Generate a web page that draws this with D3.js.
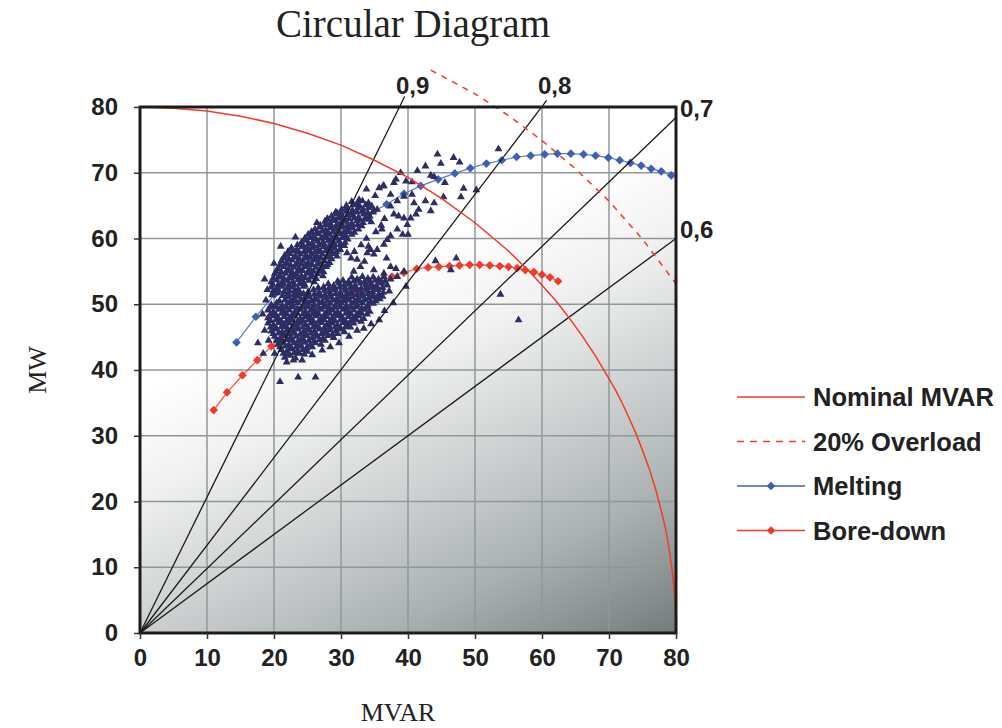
<!DOCTYPE html>
<html>
<head>
<meta charset="utf-8">
<script src="https://cdn.jsdelivr.net/npm/d3@7"></script>
<style>
  body { margin: 0; background: #fff; }
  .tick text { font-family: "Liberation Sans", Arial, sans-serif; font-weight: bold; font-size: 24px; fill: #222; }
  .lbl { font-family: "Liberation Sans", Arial, sans-serif; font-weight: bold; font-size: 24px; fill: #222; }
  .leg { font-family: "Liberation Sans", Arial, sans-serif; font-weight: bold; font-size: 25.5px; fill: #222; }
  .serif { font-family: "Liberation Serif", "Times New Roman", serif; fill: #222; }
</style>
</head>
<body>
<svg id="chart" width="1002" height="728"></svg>
<script>
// ticks
const xTicks = [0, 10, 20, 30, 40, 50, 60, 70, 80];
const yTicks = [0, 10, 20, 30, 40, 50, 60, 70, 80];

// nominal MVAR limit [MVAR, MW]
const nominal = [[0,80],[5,79.8],[10,79.4],[15,78.6],[20,77.5],[25,76.0],[30,74.2],[35,71.9],[40,69.3],[45,66.1],[50,62.4],[55,58.1],[58,55.1],[60,52.9],[62,50.6],[64,48.0],[66,45.2],[68,42.1],[70,38.7],[71,36.9],[72,34.9],[73,32.7],[74,30.4],[75,27.8],[76,25.0],[77,21.7],[78,17.8],[78.5,15.6],[79,12.6],[79.5,8.9],[79.8,5.6],[80,0]];

// 20% overload
const overload = [[43.4,85.6],[46,84.2],[50,82.0],[55,78.7],[60,74.9],[65,70.6],[70,65.7],[75,59.9],[80,53.1]];

// power factor lines, end points
const pfLabels = ["0,9", "0,8", "0,7", "0,6"];
const pfEnds = [[39.5,81.6],[60.7,81.0],[80,78.4],[80,60]];

const melting = [[14.4,44.2],[17.3,48.1],[20.1,51.5],[22.9,54.3],[25.7,57.0],[28.4,59.6],[31.2,61.8],[34.0,63.6],[36.8,65.2],[39.4,66.8],[41.9,68.0],[44.5,69.0],[47.0,69.9],[49.3,70.7],[51.7,71.4],[54.0,71.9],[56.2,72.4],[58.3,72.6],[60.4,72.8],[62.3,72.9],[64.3,72.9],[66.2,72.8],[68.0,72.6],[69.9,72.3],[71.6,71.9],[73.2,71.5],[74.8,71.1],[76.3,70.6],[77.8,70.2],[79.3,69.6]];

const boreDown = [[11.0,33.9],[13.0,36.6],[15.3,39.2],[17.5,41.5],[19.6,43.6],[21.7,45.5],[23.8,47.2],[25.9,48.7],[28.0,50.0],[30.1,51.0],[32.2,51.9],[34.2,52.6],[36.0,53.4],[37.6,54.2],[39.4,54.8],[41.3,55.4],[43.0,55.6],[44.6,55.7],[46.2,55.8],[47.7,55.9],[49.2,56.0],[50.7,56.0],[52.2,55.9],[53.7,55.8],[55.0,55.7],[56.3,55.5],[57.5,55.2],[58.8,54.9],[60.0,54.5],[61.2,54.1],[62.4,53.5]];

// measured operating points, melting period (dense cloud)
const measuredUpper = [
  [31.6,65.6],[32.4,65.3],[33.2,65.7],[34.1,65.4],
  [30.8,65.0],[31.9,65.1],[32.8,64.9],[33.7,65.1],[34.6,64.9],
  [30.1,64.4],[30.9,64.7],[31.7,64.3],[32.5,64.6],[33.3,64.4],[34.1,64.7],[34.9,64.3],
  [29.2,64.0],[30.0,63.9],[30.8,64.1],[31.6,63.9],[32.4,64.0],[33.2,64.1],[34.0,63.9],[34.8,64.0],
  [28.6,63.4],[29.4,63.7],[30.2,63.3],[31.0,63.6],[31.8,63.5],[32.6,63.2],[33.4,63.7],[34.3,63.4],
  [28.0,63.0],[28.8,62.9],[29.6,63.1],[30.4,62.9],[31.2,63.0],[32.0,63.1],[32.8,62.9],[33.6,63.0],[34.2,62.9],
  [27.6,62.6],[28.4,62.3],[29.2,62.7],[30.0,62.4],[30.8,62.6],[31.6,62.3],[32.4,62.7],[33.3,62.4],
  [26.9,62.0],[27.7,62.1],[28.5,61.9],[29.3,62.0],[30.1,62.1],[30.9,61.9],[31.7,62.0],[32.5,62.1],[33.1,61.9],
  [26.1,61.4],[26.9,61.7],[27.7,61.3],[28.5,61.6],[29.3,61.4],[30.1,61.7],[30.9,61.3],[31.7,61.6],[32.6,61.4],
  [25.6,61.0],[26.4,60.9],[27.2,61.1],[28.0,60.9],[28.8,61.0],[29.6,61.1],[30.4,60.9],[31.2,61.0],[32.0,60.9],
  [25.1,60.6],[25.9,60.3],[26.7,60.7],[27.5,60.4],[28.3,60.6],[29.1,60.3],[29.9,60.7],[30.7,60.4],[31.6,60.6],
  [24.6,60.0],[25.4,60.1],[26.2,59.9],[27.0,60.0],[27.8,60.1],[28.6,59.9],[29.4,60.0],[30.2,60.1],[31.0,59.9],
  [24.1,59.4],[24.9,59.7],[25.7,59.3],[26.5,59.6],[27.3,59.4],[28.1,59.7],[28.9,59.3],[29.7,59.6],[30.6,59.4],
  [23.5,59.0],[24.3,58.9],[25.1,59.1],[25.9,58.9],[26.7,59.0],[27.5,59.1],[28.3,58.9],[29.1,59.0],[29.9,59.1],[30.5,58.9],
  [22.6,58.6],[23.4,58.3],[24.2,58.7],[25.0,58.4],[25.8,58.6],[26.6,58.3],[27.4,58.7],[28.2,58.4],[29.0,58.6],[29.8,58.3],
  [22.1,58.0],[22.9,58.1],[23.7,57.9],[24.5,58.0],[25.3,58.1],[26.1,57.9],[26.9,58.0],[27.7,58.1],[28.5,57.9],[29.3,58.0],
  [21.6,57.4],[22.4,57.7],[23.2,57.3],[24.0,57.6],[24.8,57.4],[25.6,57.7],[26.4,57.3],[27.2,57.6],[28.0,57.4],[28.8,57.7],[29.4,57.3],
  [21.4,57.0],[22.2,56.9],[23.0,57.1],[23.8,56.9],[24.6,57.0],[25.4,57.1],[26.2,56.9],[27.0,57.0],[27.8,57.1],[28.6,56.9],
  [21.1,56.6],[21.9,56.3],[22.7,56.7],[23.5,56.4],[24.3,56.6],[25.1,56.3],[25.9,56.7],[26.7,56.4],[27.5,56.6],[28.3,56.3],
  [20.9,56.0],[21.7,56.1],[22.5,55.9],[23.3,56.0],[24.1,56.1],[24.9,55.9],[25.7,56.0],[26.5,56.1],[27.3,55.9],[28.0,56.0],
  [20.6,55.4],[21.4,55.7],[22.2,55.3],[23.0,55.6],[23.8,55.4],[24.6,55.7],[25.4,55.3],[26.2,55.6],[27.0,55.4],[27.8,55.7],
  [20.3,55.0],[21.1,54.9],[21.9,55.1],[22.7,54.9],[23.5,55.0],[24.3,55.1],[25.1,54.9],[25.9,55.0],[26.7,55.1],[27.4,54.9],
  [20.1,54.6],[20.9,54.3],[21.7,54.7],[22.5,54.4],[23.3,54.6],[24.1,54.3],[24.9,54.7],[25.7,54.4],[26.5,54.6],[27.3,54.3],
  [19.9,54.0],[20.7,54.1],[21.5,53.9],[22.3,54.0],[23.1,54.1],[23.9,53.9],[24.7,54.0],[25.5,54.1],[26.3,53.9],
  [19.6,53.4],[20.4,53.7],[21.2,53.3],[22.0,53.6],[22.8,53.4],[23.6,53.7],[24.4,53.3],[25.2,53.6],[26.0,53.4],
  [19.8,53.0],[20.6,52.9],[21.4,53.1],[22.2,52.9],[23.0,53.0],[23.8,53.1],[24.6,52.9],
  [19.6,52.6],[20.4,52.3],[21.2,52.7],[22.0,52.4],[22.8,52.6],[23.6,52.3],[24.4,52.7],
  [19.9,52.0],[20.7,52.1],[21.5,51.9],[22.3,52.0],[23.1,52.1],[23.8,51.9],
  [19.7,51.4],[20.5,51.7],[21.3,51.3],[22.1,51.6],[22.9,51.4],[23.5,51.7]
];

// measured operating points, bore-down period (dense cloud)
const measuredLower = [
  [31.6,54.1],[32.4,53.8],[33.2,54.2],[34.0,53.9],[34.8,54.1],[35.6,53.8],[36.4,54.2],
  [29.5,53.5],[30.3,53.6],[31.1,53.4],[31.9,53.5],[32.7,53.6],[33.5,53.4],[34.3,53.5],[35.1,53.6],[35.9,53.4],[36.6,53.5],
  [28.1,53.1],[28.9,52.8],[29.7,53.2],[30.5,52.9],[31.3,53.1],[32.1,52.8],[32.9,53.2],[33.7,52.9],[34.5,53.1],[35.3,52.8],[36.1,53.2],[36.9,52.9],
  [26.6,52.5],[27.4,52.6],[28.2,52.4],[29.0,52.5],[29.8,52.6],[30.6,52.4],[31.4,52.5],[32.2,52.6],[33.0,52.4],[33.8,52.5],[34.6,52.6],[35.4,52.4],[36.2,52.5],
  [25.1,51.9],[25.9,52.2],[26.7,51.8],[27.5,52.1],[28.3,51.9],[29.1,52.2],[29.9,51.8],[30.7,52.1],[31.5,51.9],[32.3,52.2],[33.1,51.8],[33.9,52.1],[34.7,51.9],[35.5,52.2],[36.3,51.8],
  [23.6,51.5],[24.4,51.6],[25.2,51.4],[26.0,51.5],[26.8,51.6],[27.6,51.4],[28.4,51.5],[29.2,51.6],[30.0,51.4],[30.8,51.5],[31.6,51.6],[32.4,51.4],[33.2,51.5],[34.0,51.6],[34.8,51.4],[35.6,51.5],
  [22.1,51.1],[22.9,50.8],[23.7,51.2],[24.5,50.9],[25.3,51.1],[26.1,50.8],[26.9,51.2],[27.7,50.9],[28.5,51.1],[29.3,50.8],[30.1,51.2],[30.9,50.9],[31.7,51.1],[32.5,50.8],[33.3,51.2],[34.1,50.9],[34.9,51.1],[35.8,50.8],
  [20.8,50.5],[21.6,50.6],[22.4,50.4],[23.2,50.5],[24.0,50.6],[24.8,50.4],[25.6,50.5],[26.4,50.6],[27.2,50.4],[28.0,50.5],[28.8,50.6],[29.6,50.4],[30.4,50.5],[31.2,50.6],[32.0,50.4],[32.8,50.5],[33.6,50.6],[34.4,50.4],[35.2,50.5],
  [19.6,49.9],[20.4,50.2],[21.2,49.8],[22.0,50.1],[22.8,49.9],[23.6,50.2],[24.4,49.8],[25.2,50.1],[26.0,49.9],[26.8,50.2],[27.6,49.8],[28.4,50.1],[29.2,49.9],[30.0,50.2],[30.8,49.8],[31.6,50.1],[32.4,49.9],[33.2,50.2],[34.0,49.8],[34.8,50.1],
  [19.5,49.5],[20.3,49.6],[21.1,49.4],[21.9,49.5],[22.7,49.6],[23.5,49.4],[24.3,49.5],[25.1,49.6],[25.9,49.4],[26.7,49.5],[27.5,49.6],[28.3,49.4],[29.1,49.5],[29.9,49.6],[30.7,49.4],[31.5,49.5],[32.3,49.6],[33.1,49.4],[33.9,49.5],
  [19.1,49.1],[19.9,48.8],[20.7,49.2],[21.5,48.9],[22.3,49.1],[23.1,48.8],[23.9,49.2],[24.7,48.9],[25.5,49.1],[26.3,48.8],[27.1,49.2],[27.9,48.9],[28.7,49.1],[29.5,48.8],[30.3,49.2],[31.1,48.9],[31.9,49.1],[32.7,48.8],[33.5,49.2],[34.3,48.9],
  [19.5,48.5],[20.3,48.4],[21.1,48.6],[21.9,48.5],[22.7,48.4],[23.5,48.6],[24.3,48.5],[25.1,48.4],[25.9,48.6],[26.7,48.5],[27.5,48.4],[28.3,48.6],[29.1,48.5],[29.9,48.4],[30.7,48.6],[31.5,48.5],[32.3,48.4],[33.1,48.6],[33.9,48.5],
  [19.1,47.9],[19.9,48.2],[20.7,47.8],[21.5,48.1],[22.3,47.9],[23.1,48.2],[23.9,47.8],[24.7,48.1],[25.5,47.9],[26.3,48.2],[27.1,47.8],[27.9,48.1],[28.7,47.9],[29.5,48.2],[30.3,47.8],[31.1,48.1],[31.9,47.9],[32.7,48.2],[33.4,47.8],
  [19.5,47.5],[20.3,47.6],[21.1,47.4],[21.9,47.5],[22.7,47.6],[23.5,47.4],[24.3,47.5],[25.1,47.6],[25.9,47.4],[26.7,47.5],[27.5,47.6],[28.3,47.4],[29.1,47.5],[29.9,47.6],[30.7,47.4],[31.5,47.5],[32.3,47.6],[33.0,47.4],
  [19.1,47.1],[19.9,46.8],[20.7,47.2],[21.5,46.9],[22.3,47.1],[23.1,46.8],[23.9,47.2],[24.7,46.9],[25.5,47.1],[26.3,46.8],[27.1,47.2],[27.9,46.9],[28.7,47.1],[29.5,46.8],[30.3,47.2],[31.1,46.9],[31.9,47.1],
  [19.5,46.5],[20.3,46.4],[21.1,46.6],[21.9,46.5],[22.7,46.4],[23.5,46.6],[24.3,46.5],[25.1,46.4],[25.9,46.6],[26.7,46.5],[27.5,46.4],[28.3,46.6],[29.1,46.5],[29.9,46.4],[30.7,46.6],[31.4,46.5],
  [19.6,45.9],[20.4,46.2],[21.2,45.8],[22.0,46.1],[22.8,45.9],[23.6,46.2],[24.4,45.8],[25.2,46.1],[26.0,45.9],[26.8,46.2],[27.6,45.8],[28.4,46.1],[29.2,45.9],[30.0,46.2],[30.5,45.8],
  [19.9,45.5],[20.7,45.6],[21.5,45.4],[22.3,45.5],[23.1,45.6],[23.9,45.4],[24.7,45.5],[25.5,45.6],[26.3,45.4],[27.1,45.5],[27.9,45.6],[28.7,45.4],[29.5,45.5],
  [20.1,45.1],[20.9,44.8],[21.7,45.2],[22.5,44.9],[23.3,45.1],[24.1,44.8],[24.9,45.2],[25.7,44.9],[26.5,45.1],[27.3,44.8],[28.1,45.2],[28.9,44.9],
  [20.4,44.5],[21.2,44.4],[22.0,44.6],[22.8,44.5],[23.6,44.4],[24.4,44.6],[25.2,44.5],[26.0,44.4],[26.8,44.6],[27.6,44.5],
  [20.6,43.9],[21.4,44.2],[22.2,43.8],[23.0,44.1],[23.8,43.9],[24.6,44.2],[25.4,43.8],[26.2,44.1],[27.0,43.9],
  [20.9,43.5],[21.7,43.6],[22.5,43.4],[23.3,43.5],[24.1,43.6],[24.9,43.4],[25.7,43.5],
  [21.1,43.1],[21.9,42.8],[22.7,43.2],[23.5,42.9],[24.3,43.1],[25.0,42.8],
  [21.4,42.5],[22.2,42.4],[23.0,42.6],[23.8,42.5],[24.5,42.4],
  [21.6,41.9],[22.4,42.2],[23.2,41.8]
];

// scattered points around the two clouds
const measuredSparse = [
  [53.5,73.6],[44.4,72.8],[44.9,71.4],[46.8,72.3],[47.7,71.6],[42.6,71.0],[41.4,70.3],[38.9,70.0],[38.2,69.0],[37.9,68.5],
  [39.7,68.7],[40.6,68.6],[43.4,69.6],[43.9,69.4],[45.3,66.3],[48.3,67.6],[47.9,66.3],[50.2,67.4],[43.9,65.4],[43.4,64.2],
  [41.6,64.4],[42.6,65.7],[40.9,65.4],[40.6,66.7],[39.4,66.4],[38.4,65.7],[37.4,66.7],[36.4,68.0],[35.7,67.7],[37.4,64.9],
  [35.4,64.4],[37.9,63.7],[39.4,63.1],[40.4,63.1],[39.9,62.1],[38.4,61.4],[39.2,60.6],[40.0,60.6],[37.4,60.4],[36.4,59.1],
  [34.9,57.6],[34.4,58.3],[45.5,68.5],[38.6,63.4],[41.2,63.7],[33.8,67.5],[32.7,65.9],[36.0,62.0],[35.2,61.0],[33.8,60.0],
  [34.5,62.5],[36.5,63.0],[33.0,59.0],[32.0,58.0],[31.5,57.0],[33.5,56.5],[35.1,66.5],[36.3,68.0],[36.1,61.4],[34.1,58.8],
  [36.9,59.8],[35.4,58.3],[29.9,58.3],[30.9,57.8],[32.4,56.8],[33.9,57.8],[32.9,55.7],[34.9,55.2],[36.4,54.7],[37.4,55.7],
  [38.4,54.2],[31.9,55.0],[22.1,57.9],[24.6,59.9],[25.6,60.9],[27.9,62.9],[29.4,63.9],[21.0,58.8],[23.2,60.2],[26.4,62.4],
  [39.4,55.0],[38.2,55.4],[39.7,52.7],[37.4,53.8],[37.2,52.0],[36.2,51.2],[35.4,50.9],[53.8,51.5],[56.5,47.6],[44.1,56.6],
  [47.2,57.0],[46.4,55.2],[37.8,50.2],[36.5,49.0],[35.7,47.6],[34.5,47.0],[33.4,46.3],[32.4,46.0],[31.2,45.1],[29.7,44.1],
  [28.4,43.5],[27.2,43.0],[25.7,42.3],[24.2,41.5],[22.9,41.5],[21.9,41.2],[20.1,42.5],[19.2,44.5],[18.6,46.0],[18.3,48.5],
  [17.6,44.1],[18.4,42.5],[20.9,38.2],[23.6,38.9],[26.2,38.9],[18.8,50.6],[19.0,52.2],[18.6,53.8],[20.0,56.2],[36.8,57.0]
];

const legendItems = [
  { name: "Nominal MVAR", color: "#f23a2a", dash: null, marker: false },
  { name: "20% Overload", color: "#f23a2a", dash: "7,6", marker: false },
  { name: "Melting", color: "#3e5fb4", dash: null, marker: true },
  { name: "Bore-down", color: "#f23a2a", dash: null, marker: true }
];

const margin = { left: 140, right: 676, top: 107, bottom: 633 };

const svg = d3.select("#chart");

const x = d3.scaleLinear().domain([0, 80]).range([margin.left, margin.right]);
const y = d3.scaleLinear().domain([0, 80]).range([margin.bottom, margin.top]);

// background gradient
const defs = svg.append("defs");
const grad = defs.append("linearGradient")
  .attr("id", "bg")
  .attr("gradientUnits", "userSpaceOnUse")
  .attr("x1", 478).attr("y1", 225)
  .attr("x2", 676).attr("y2", 633);
[[0, "#ffffff"], [0.2, "#f2f2f2"], [0.45, "#d0d3d3"], [0.72, "#aab0b0"], [1, "#737c7c"]]
  .forEach(s => grad.append("stop").attr("offset", s[0]).attr("stop-color", s[1]));

svg.append("rect")
  .attr("x", x(0)).attr("y", y(80))
  .attr("width", x(80) - x(0)).attr("height", y(0) - y(80))
  .attr("fill", "url(#bg)");

// grid
const grid = svg.append("g").attr("stroke", "#8f9898").attr("stroke-width", 1.5);
grid.selectAll("line.v").data(xTicks.slice(1, -1)).join("line")
  .attr("x1", d => x(d)).attr("x2", d => x(d))
  .attr("y1", y(0)).attr("y2", y(80));
grid.selectAll("line.h").data(yTicks.slice(1, -1)).join("line")
  .attr("y1", d => y(d)).attr("y2", d => y(d))
  .attr("x1", x(0)).attr("x2", x(80));

const line = d3.line().x(d => x(d[0])).y(d => y(d[1]));
const diamond = d3.symbol(d3.symbolSquare, 38);
const tri = d3.symbol(d3.symbolTriangle, 27);

// melting & bore-down series
function series(data, lineColor, markColor) {
  svg.append("path").datum(data)
    .attr("d", line).attr("fill", "none")
    .attr("stroke", lineColor).attr("stroke-width", 1.2);
  svg.append("g").selectAll("path").data(data).join("path")
    .attr("d", diamond)
    .attr("transform", d => `translate(${x(d[0])},${y(d[1])}) rotate(45)`)
    .attr("fill", markColor);
}
series(melting, "#5a7bcc", "#3e5fb4");
series(boreDown, "#f4503e", "#f23a2a");

// measured points
svg.append("g").selectAll("path")
  .data(measuredSparse.concat(measuredLower, measuredUpper))
  .join("path")
  .attr("d", tri)
  .attr("transform", d => `translate(${x(d[0])},${y(d[1])})`)
  .attr("fill", "#2c2e63");

// power factor lines
svg.append("g").selectAll("line").data(pfEnds).join("line")
  .attr("x1", x(0)).attr("y1", y(0))
  .attr("x2", d => x(d[0])).attr("y2", d => y(d[1]))
  .attr("stroke", "#1a1a1a").attr("stroke-width", 1.3);

svg.append("g").selectAll("text").data(pfLabels).join("text")
  .attr("class", "lbl")
  .attr("x", (d, i) => i < 2 ? x(pfEnds[i][0]) + 8 : x(80) + 4)
  .attr("y", (d, i) => i < 2 ? 94 : y(pfEnds[i][1]) - 0.5)
  .attr("text-anchor", (d, i) => i < 2 ? "middle" : "start")
  .text(d => d);

// nominal and overload curves
svg.append("path").datum(nominal)
  .attr("d", line).attr("fill", "none")
  .attr("stroke", "#f23a2a").attr("stroke-width", 1.5);
svg.append("path").datum(overload)
  .attr("d", line).attr("fill", "none")
  .attr("stroke", "#f23a2a").attr("stroke-width", 1.5)
  .attr("stroke-dasharray", "6,6");

// frame
svg.append("rect")
  .attr("x", x(0)).attr("y", y(80))
  .attr("width", x(80) - x(0)).attr("height", y(0) - y(80))
  .attr("fill", "none").attr("stroke", "#1c1c1c").attr("stroke-width", 3);

// axes
const xAxis = svg.append("g")
  .attr("transform", `translate(0,${y(0)})`)
  .call(d3.axisBottom(x).tickValues(xTicks).tickSize(6).tickPadding(10).tickFormat(d3.format("d")));
const yAxis = svg.append("g")
  .attr("transform", `translate(${x(0)},0)`)
  .call(d3.axisLeft(y).tickValues(yTicks).tickSize(6).tickPadding(16).tickFormat(d3.format("d")));
[xAxis, yAxis].forEach(a => {
  a.select(".domain").remove();
  a.selectAll(".tick line").attr("stroke", "#333").attr("stroke-width", 1.5);
});

// titles
svg.append("text").attr("class", "serif")
  .attr("x", 413).attr("y", 37)
  .attr("text-anchor", "middle").attr("font-size", 39)
  .text("Circular Diagram");
svg.append("text").attr("class", "serif")
  .attr("x", 398).attr("y", 721)
  .attr("text-anchor", "middle").attr("font-size", 26)
  .text("MVAR");
svg.append("text").attr("class", "serif")
  .attr("transform", "translate(46,370) rotate(-90)")
  .attr("text-anchor", "middle").attr("font-size", 26)
  .text("MW");

// legend
const legend = svg.append("g").selectAll("g").data(legendItems).join("g")
  .attr("transform", (d, i) => `translate(737,${397 + i * 44.5})`);
legend.append("line")
  .attr("x1", 0).attr("x2", 68)
  .attr("stroke", d => d.color).attr("stroke-width", 1.5)
  .attr("stroke-dasharray", d => d.dash);
legend.filter(d => d.marker).append("path")
  .attr("d", diamond)
  .attr("transform", "translate(34,0) rotate(45)")
  .attr("fill", d => d.color);
legend.append("text").attr("class", "leg")
  .attr("x", 76).attr("y", 9)
  .text(d => d.name);
</script>
</body>
</html>
